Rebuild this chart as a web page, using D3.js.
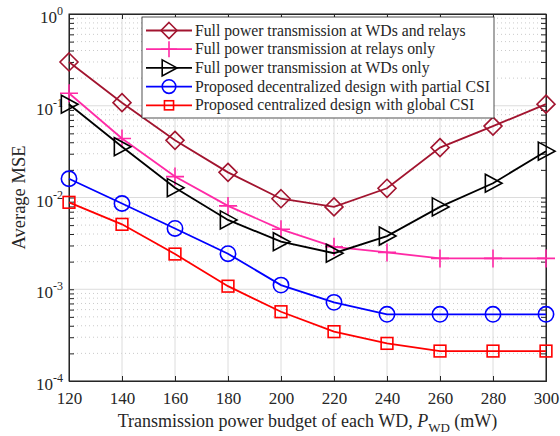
<!DOCTYPE html>
<html>
<head>
<meta charset="UTF-8">
<script src="https://d3js.org/d3.v7.min.js"></script>
<style>
  body { margin: 0; background: #fff; }
  svg text { font-family: "Liberation Serif", "Times New Roman", serif; fill: #262626; }
</style>
</head>
<body>
<div id="chart"></div>
<script>
// data
const power = [120, 140, 160, 180, 200, 220, 240, 260, 280, 300];
const fullBoth   = [0.30, 0.108, 0.042, 0.0188, 0.0097, 0.0079, 0.0126, 0.035, 0.060, 0.104];
const fullRelays = [0.137, 0.044, 0.0169, 0.0081, 0.0045, 0.0029, 0.00252, 0.00217, 0.00217, 0.00217];
const fullWDs    = [0.104, 0.0358, 0.0128, 0.0057, 0.0033, 0.00247, 0.0038, 0.0079, 0.0143, 0.032];
const decentral  = [0.016, 0.0086, 0.0046, 0.00244, 0.00111, 0.00072, 0.000533, 0.000533, 0.000533, 0.000533];
const central    = [0.00886, 0.0051, 0.00242, 0.00108, 0.000569, 0.000345, 0.000257, 0.000212, 0.000212, 0.000212];
const seriesNames = [
  "Full power transmission at WDs and relays",
  "Full power transmission at relays only",
  "Full power transmission at WDs only",
  "Proposed decentralized design with partial CSI",
  "Proposed centralized design with global CSI"
];
const xTicks = [120, 140, 160, 180, 200, 220, 240, 260, 280, 300];
const yExps = [0, -1, -2, -3, -4];

const series = [
  { name: seriesNames[0], values: fullBoth,   color: "#a2142f", marker: "diamond" },
  { name: seriesNames[1], values: fullRelays, color: "#ff2aa6", marker: "plus" },
  { name: seriesNames[2], values: fullWDs,    color: "#000000", marker: "triangle" },
  { name: seriesNames[3], values: decentral,  color: "#0000ff", marker: "circle" },
  { name: seriesNames[4], values: central,    color: "#ff0000", marker: "square" }
];

const W = 560, H = 436;
const m = { top: 14, right: 14, bottom: 55, left: 69 };
const iw = W - m.left - m.right, ih = H - m.top - m.bottom;

const svg = d3.select("#chart").append("svg")
  .attr("width", W).attr("height", H);
const g = svg.append("g").attr("transform", `translate(${m.left},${m.top})`);

const x = d3.scaleLinear().domain([120, 300]).range([0, iw]);
const y = d3.scaleLog().domain([1e-4, 1]).range([ih, 0]);

// minor grid (dotted)
const minor = [];
for (let e = -4; e < 0; e++) for (let k = 2; k <= 9; k++) minor.push(k * Math.pow(10, e));
g.selectAll(".minor").data(minor).join("line")
  .attr("x1", 0).attr("x2", iw)
  .attr("y1", d => y(d)).attr("y2", d => y(d))
  .attr("stroke", "#bdbdbd").attr("stroke-width", 0.8).attr("stroke-dasharray", "1,3");

// major grid
g.selectAll(".gx").data(xTicks).join("line")
  .attr("x1", d => x(d)).attr("x2", d => x(d)).attr("y1", 0).attr("y2", ih)
  .attr("stroke", "#dcdcdc").attr("stroke-width", 1);
g.selectAll(".gy").data(yExps).join("line")
  .attr("x1", 0).attr("x2", iw)
  .attr("y1", d => y(Math.pow(10, d))).attr("y2", d => y(Math.pow(10, d)))
  .attr("stroke", "#dcdcdc").attr("stroke-width", 1);

// axes
const xAxis = d3.axisBottom(x).tickValues(xTicks).tickSize(-5).tickPadding(11).tickFormat(d3.format("d"));
const gx = g.append("g").attr("transform", `translate(0,${ih})`).call(xAxis);
gx.selectAll("text").attr("font-size", 17);
g.append("g").call(d3.axisTop(x).tickValues(xTicks).tickSize(-5).tickFormat(""));

const yAxis = d3.axisLeft(y).tickValues(minor.concat(yExps.map(e => Math.pow(10, e))))
  .tickSize(-5).tickFormat("");
g.append("g").call(yAxis);
g.append("g").attr("transform", `translate(${iw},0)`)
  .call(d3.axisRight(y).tickValues(minor.concat(yExps.map(e => Math.pow(10, e)))).tickSize(-5).tickFormat(""));
g.selectAll(".tick line").attr("stroke", "#262626");
g.selectAll(".domain").attr("stroke", "#262626");
g.append("rect").attr("width", iw).attr("height", ih)
  .attr("fill", "none").attr("stroke", "#262626").attr("stroke-width", 1);

// y tick labels 10^n
const yl = g.selectAll(".ylab").data(yExps).join("text")
  .attr("x", -6).attr("y", d => y(Math.pow(10, d)) + 9)
  .attr("text-anchor", "end").attr("font-size", 17);
yl.append("tspan").text("10");
yl.append("tspan").attr("dy", -8).attr("font-size", 12).text(d => d);

// axis titles
const xt = svg.append("text").attr("x", m.left + iw / 2 + 0).attr("y", H - 9)
  .attr("text-anchor", "middle").attr("font-size", 18);
xt.append("tspan").text("Transmission power budget of each WD, ");
xt.append("tspan").attr("font-style", "italic").text("P");
xt.append("tspan").attr("font-size", 13).attr("dy", 5).text("WD");
xt.append("tspan").attr("dy", -5).text(" (mW)");

svg.append("text").attr("transform", `translate(25,${m.top + ih / 2}) rotate(-90)`)
  .attr("text-anchor", "middle").attr("font-size", 18.5).text("Average MSE");

// markers
function drawMarker(sel, type, color, s) {
  if (type === "diamond") {
    sel.append("path").attr("d", `M0,${-s}L${s},0L0,${s}L${-s},0Z`);
  } else if (type === "plus") {
    sel.append("path").attr("d", `M${-s},0H${s}M0,${-s}V${s}`);
  } else if (type === "triangle") {
    sel.append("path").attr("d", `M${-s * 0.85},${-s}L${s},0L${-s * 0.85},${s}Z`);
  } else if (type === "circle") {
    sel.append("circle").attr("r", s * 0.85);
  } else if (type === "square") {
    sel.append("rect").attr("x", -s * 0.65).attr("y", -s * 0.65)
      .attr("width", s * 1.3).attr("height", s * 1.3);
  }
  sel.selectAll("path,circle,rect").attr("fill", "none").attr("stroke", color).attr("stroke-width", 1.6);
}

const line = d3.line().x((d, i) => x(power[i])).y(d => y(d));

series.forEach(s => {
  g.append("path").datum(s.values).attr("d", line)
    .attr("fill", "none").attr("stroke", s.color).attr("stroke-width", 1.8);
  s.values.forEach((v, i) => {
    const mk = g.append("g").attr("transform", `translate(${x(power[i])},${y(v)})`);
    drawMarker(mk, s.marker, s.color, 9);
  });
});

// legend
const lg = svg.append("g").attr("transform", "translate(142,17)");
lg.append("rect").attr("width", 352).attr("height", 101)
  .attr("fill", "#fff").attr("stroke", "#262626").attr("stroke-width", 0.8);
series.forEach((s, i) => {
  const row = lg.append("g").attr("transform", `translate(0,${13.5 + i * 18.7})`);
  row.append("line").attr("x1", 4).attr("x2", 50).attr("stroke", s.color).attr("stroke-width", 1.8);
  const mk = row.append("g").attr("transform", "translate(27,0)");
  drawMarker(mk, s.marker, s.color, s.marker === "square" ? 7 : 8);
  row.append("text").attr("x", 53).attr("y", 5).attr("font-size", 15.7).text(s.name);
});
</script>
</body>
</html>
